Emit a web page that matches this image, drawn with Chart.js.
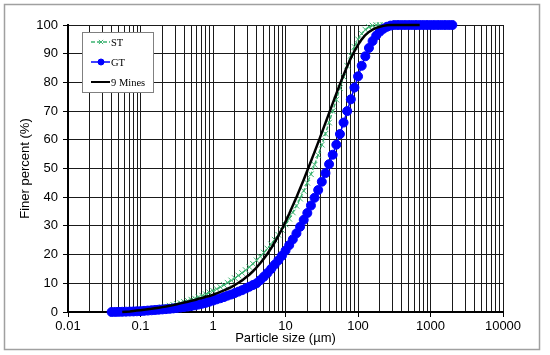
<!DOCTYPE html>
<html>
<head>
<meta charset="utf-8">
<script src="https://cdn.jsdelivr.net/npm/chart.js@4.4.1/dist/chart.umd.min.js"></script>
<style>
  body { margin: 0; background: #fff; }
  #grafico { display: block; }
</style>
</head>
<body>
<canvas id="grafico" width="550" height="355"></canvas>
<script>
// tamaños de partícula (µm), una fila por clase del granulómetro
const sizes = [
  0.040, 0.045, 0.050, 0.056, 0.063, 0.071, 0.080, 0.089, 0.100, 0.112,
  0.126, 0.142, 0.159, 0.178, 0.200, 0.224, 0.252, 0.283, 0.317, 0.356,
  0.399, 0.448, 0.502, 0.564, 0.632, 0.710, 0.796, 0.893, 1.002, 1.125,
  1.262, 1.416, 1.589, 1.783, 2.000, 2.244, 2.518, 2.825, 3.170, 3.557,
  3.991, 4.477, 5.024, 5.637, 6.325, 7.096, 7.962, 8.934, 10.02, 11.25,
  12.62, 14.16, 15.89, 17.83, 20.00, 22.44, 25.18, 28.25, 31.70, 35.57,
  39.91, 44.77, 50.24, 56.37, 63.25, 70.96, 79.62, 89.34, 100.2, 112.5,
  126.2, 141.6, 158.9, 178.3, 200.0, 224.4, 251.8, 282.5, 317.0, 355.7,
  399.1, 447.7, 502.4, 563.7, 632.5, 709.6, 796.2, 893.4, 1002, 1125,
  1262, 1416, 1589, 1783, 2000
];

// ST (null = sin dato)
const stFiner = [
  null, null, 0, 0.05, 0.1, 0.2, 0.3, 0.4, 0.5, 0.65,
  0.8, 1.0, 1.2, 1.4, 1.65, 1.9, 2.2, 2.5, 2.8, 3.1,
  3.5, 3.9, 4.3, 4.7, 5.2, 5.7, 6.2, 6.8, 7.4, 8.0,
  8.7, 9.4, 10.2, 11.0, 11.8, 12.7, 13.6, 14.6, 15.7, 16.8,
  18.0, 19.3, 20.7, 22.1, 23.6, 25.2, 26.9, 28.6, 30.5, 32.5,
  34.7, 37.0, 39.5, 42.2, 45.0, 48.0, 51.3, 54.7, 58.3, 62.1,
  66.0, 70.0, 74.0, 78.0, 82.0, 85.8, 89.3, 92.4, 95.0, 97.0,
  98.4, 99.3, 99.8, 100, 100, 100, null, null, null, null,
  null, null, null, null, null, null, null, null, null, null,
  null, null, null, null, null
];

// GT
const gtFiner = [
  0, 0.02, 0.05, 0.08, 0.12, 0.16, 0.2, 0.25, 0.3, 0.4,
  0.5, 0.6, 0.7, 0.8, 0.9, 1.0, 1.1, 1.25, 1.4, 1.55,
  1.7, 1.9, 2.1, 2.3, 2.6, 2.9, 3.2, 3.6, 4.0, 4.4,
  4.8, 5.2, 5.7, 6.1, 6.6, 7.1, 7.6, 8.2, 8.8, 9.4,
  10.0, 11.1, 12.3, 13.6, 15.0, 16.5, 18.0, 19.6, 21.4, 23.3,
  25.3, 27.4, 29.7, 32.1, 34.5, 37.1, 39.8, 42.5, 45.4, 48.4,
  51.5, 54.8, 58.3, 62.0, 66.0, 70.0, 74.1, 78.2, 82.1, 85.8,
  89.1, 92.0, 94.4, 96.3, 97.7, 98.7, 99.4, 99.8, 100, 100,
  100, 100, 100, 100, 100, 100, 100, 100, 100, 100,
  100, 100, 100, 100, 100
];

// 9 Mines
const minesFiner = [
  null, null, null, 0, 0.1, 0.2, 0.35, 0.5, 0.65, 0.8,
  0.95, 1.1, 1.3, 1.5, 1.7, 1.9, 2.15, 2.4, 2.7, 3.0,
  3.3, 3.6, 3.9, 4.2, 4.6, 4.9, 5.3, 5.6, 6.0, 6.5,
  7.0, 7.5, 8.1, 8.7, 9.4, 10.2, 11.0, 12.0, 13.0, 14.2,
  15.5, 17.0, 18.6, 20.3, 22.2, 24.3, 26.5, 28.9, 31.5, 34.2,
  37.1, 40.0, 43.0, 46.1, 49.3, 52.5, 55.8, 59.1, 62.5, 65.9,
  69.3, 72.7, 76.1, 79.4, 82.6, 85.6, 88.4, 90.9, 93.1, 95.0,
  96.5, 97.6, 98.4, 99.0, 99.4, 99.7, 99.9, 100, 100, 100,
  100, 100, 100, 100, 100, 100, null, null, null, null,
  null, null, null, null, null
];

// ejes
const xMajor = [0.01, 0.1, 1, 10, 100, 1000, 10000];
const xMinorMult = [2, 3, 4, 5, 6, 7, 8, 9];
const yTicks = [0, 10, 20, 30, 40, 50, 60, 70, 80, 90, 100];

function puntos(valores) {
  return sizes.map((s, i) => ({ x: s, y: valores[i] })).filter(p => p.y !== null);
}

let xTickValues = [];
xMajor.forEach((m, i) => {
  xTickValues.push(m);
  if (i < xMajor.length - 1) {
    xMinorMult.forEach(k => xTickValues.push(m * k));
  }
});

const fuente = 'Liberation Sans, Arial, sans-serif';

// marco exterior + leyenda dentro del grafico
const marcoYLeyenda = {
  id: 'marcoYLeyenda',
  afterDraw(chart) {
    const ctx = chart.ctx;
    ctx.save();
    ctx.strokeStyle = '#a0a0a0';
    ctx.lineWidth = 1.5;
    ctx.strokeRect(4.5, 4.5, 535, 345);

    // caja de la leyenda
    ctx.fillStyle = '#fff';
    ctx.fillRect(82, 32, 71, 60);
    ctx.strokeStyle = '#808080';
    ctx.lineWidth = 1;
    ctx.strokeRect(82.5, 32.5, 71, 60);

    chart.data.datasets.forEach((ds, i) => {
      const y = 42 + 20 * i;
      ctx.save();
      ctx.strokeStyle = ds.borderColor;
      ctx.lineWidth = Math.min(ds.borderWidth, 2);
      ctx.setLineDash(ds.borderDash || []);
      ctx.beginPath();
      ctx.moveTo(91, y);
      ctx.lineTo(110, y);
      ctx.stroke();
      ctx.restore();
      if (ds.pointRadius > 0) {
        ctx.save();
        ctx.strokeStyle = ds.pointBorderColor;
        ctx.fillStyle = ds.pointBackgroundColor;
        ctx.lineWidth = 1;
        Chart.helpers.drawPoint(ctx, { pointStyle: ds.pointStyle, radius: 3, borderWidth: 1, rotation: 0 }, 101, y);
        ctx.restore();
      }
      ctx.fillStyle = '#000';
      ctx.font = '10.5px "Liberation Serif", "Times New Roman", serif';
      ctx.textBaseline = 'middle';
      ctx.textAlign = 'left';
      ctx.fillText(ds.label, 111, y + 1);
    });
    ctx.restore();
  }
};

const ctx = document.getElementById('grafico').getContext('2d');
const myChart = new Chart(ctx, {
  type: 'scatter',
  data: {
    datasets: [
      {
        label: 'ST',
        data: puntos(stFiner),
        showLine: true,
        borderColor: '#3cb371',
        borderWidth: 1.5,
        borderDash: [4, 2],
        pointStyle: 'crossRot',
        pointRadius: 4,
        pointBorderWidth: 1,
        pointBorderColor: '#3cb371',
        pointBackgroundColor: '#3cb371',
        order: 2,
        clip: false
      },
      {
        label: 'GT',
        data: puntos(gtFiner),
        showLine: true,
        borderColor: '#0000ff',
        borderWidth: 1.5,
        pointStyle: 'circle',
        pointRadius: 4.5,
        pointBorderWidth: 1,
        pointBorderColor: '#0000ff',
        pointBackgroundColor: '#0000ff',
        order: 1,
        clip: false
      },
      {
        label: '9 Mines',
        data: puntos(minesFiner),
        showLine: true,
        borderColor: '#000',
        borderWidth: 2.5,
        pointRadius: 0,
        order: 0,
        clip: false
      }
    ]
  },
  options: {
    responsive: false,
    animation: false,
    devicePixelRatio: 1,
    layout: { padding: { left: 0, top: 25, right: 47, bottom: 0 } },
    plugins: {
      legend: { display: false },
      tooltip: { enabled: false }
    },
    scales: {
      x: {
        type: 'logarithmic',
        min: 0.01,
        max: 10000,
        afterBuildTicks: (scale) => {
          scale.ticks = xTickValues.map(v => ({ value: v, major: xMajor.includes(v) }));
        },
        afterFit: (scale) => { scale.height = 43; },
        ticks: {
          autoSkip: false,
          maxRotation: 0,
          padding: 2,
          color: '#000',
          font: { family: fuente, size: 13 },
          callback: (v) => xMajor.includes(v) ? String(v) : ''
        },
        grid: {
          color: '#1a1a1a',
          lineWidth: 1,
          tickLength: 5,
          tickColor: (c) => (c.tick && xMajor.includes(c.tick.value)) ? '#000' : 'rgba(0,0,0,0)'
        },
        border: { color: '#000', width: 2 },
        title: {
          display: true,
          text: 'Particle size (µm)',
          color: '#000',
          font: { family: fuente, size: 13 },
          padding: { top: 9, bottom: 9 }
        }
      },
      y: {
        min: 0,
        max: 100,
        afterBuildTicks: (scale) => {
          scale.ticks = yTicks.map(v => ({ value: v }));
        },
        afterFit: (scale) => { scale.width = 68; },
        ticks: {
          padding: 5,
          color: '#000',
          font: { family: fuente, size: 13 }
        },
        grid: {
          color: '#1a1a1a',
          lineWidth: 1,
          tickLength: 5,
          tickColor: '#000'
        },
        border: { color: '#000', width: 2 },
        title: {
          display: true,
          text: 'Finer percent (%)',
          color: '#000',
          font: { family: fuente, size: 13 },
          padding: { top: 18, bottom: 18 }
        }
      }
    }
  },
  plugins: [marcoYLeyenda]
});
</script>
</body>
</html>
